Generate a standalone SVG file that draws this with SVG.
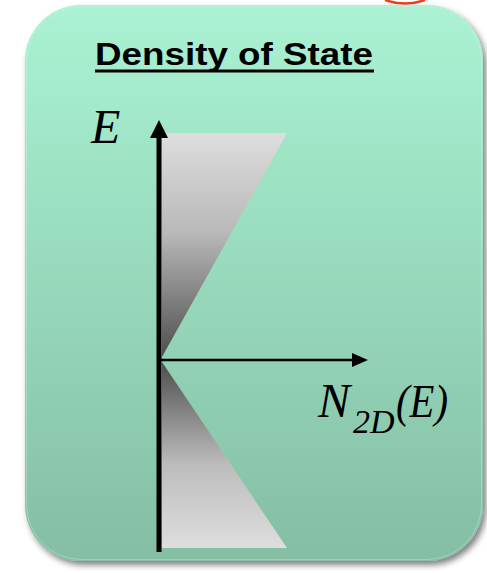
<svg xmlns="http://www.w3.org/2000/svg" width="487" height="573" viewBox="0 0 487 573">
  <defs>
    <linearGradient id="bg" x1="0" y1="0" x2="0" y2="1">
      <stop offset="0" stop-color="#aaf2d3"/>
      <stop offset="1" stop-color="#84bea4"/>
    </linearGradient>
    <linearGradient id="upTri" x1="0" y1="133" x2="0" y2="357" gradientUnits="userSpaceOnUse">
      <stop offset="0" stop-color="#dedede"/>
      <stop offset="0.45" stop-color="#b8b8b8"/>
      <stop offset="1" stop-color="#4e4e4e"/>
    </linearGradient>
    <linearGradient id="lowTri" x1="0" y1="362" x2="0" y2="548" gradientUnits="userSpaceOnUse">
      <stop offset="0" stop-color="#4e4e4e"/>
      <stop offset="0.55" stop-color="#bcbcbc"/>
      <stop offset="1" stop-color="#dedede"/>
    </linearGradient>
    <filter id="shadow" x="-10%" y="-10%" width="125%" height="125%">
      <feDropShadow dx="3" dy="4" stdDeviation="3" flood-color="#000" flood-opacity="0.5"/>
    </filter>
    <style>
      .title { font-family: "Liberation Sans", Arial, sans-serif; font-weight: bold; font-size: 31px; fill: #000; }
      .math { font-family: "Liberation Serif", "Times New Roman", serif; font-style: italic; fill: #000; }
    </style>
  </defs>

  <path d="M385,0 Q405,7 425,0" fill="none" stroke="#e8401c" stroke-width="2.5"/>

  <g id="panel">
    <rect x="25" y="5" width="458" height="556" rx="56" ry="56" fill="url(#bg)" filter="url(#shadow)"/>
    <rect x="26.5" y="6.5" width="455" height="553" rx="55" ry="55" fill="none" stroke="#c8fbe6" stroke-width="1" opacity="0.35"/>
  </g>

  <g id="title">
    <text class="title" x="95" y="65" textLength="278" lengthAdjust="spacingAndGlyphs">Density of State</text>
    <rect x="95" y="69.5" width="279" height="3" fill="#000"/>
  </g>

  <g id="upper-band">
    <polygon points="162,133 287,133 162,357" fill="url(#upTri)"/>
  </g>
  <g id="lower-band">
    <polygon points="162,362 287,548 162,548" fill="url(#lowTri)"/>
  </g>

  <g id="connectors">
    <line x1="159" y1="552" x2="159" y2="137" stroke="#000" stroke-width="5"/>
    <polygon points="159,120 150,138 168,138" fill="#000"/>
    <line x1="160" y1="360" x2="353" y2="360" stroke="#000" stroke-width="2.3"/>
    <polygon points="368,360 352,353 352,367" fill="#000"/>
  </g>

  <g id="label-E">
    <text class="math" x="91" y="143" font-size="48">E</text>
  </g>
  <g id="label-N">
    <text class="math" x="318" y="417" font-size="48">N</text>
    <text class="math" x="353" y="433" font-size="34">2D</text>
    <text class="math" x="396" y="417" font-size="46" textLength="52" lengthAdjust="spacingAndGlyphs">(E)</text>
  </g>
</svg>
